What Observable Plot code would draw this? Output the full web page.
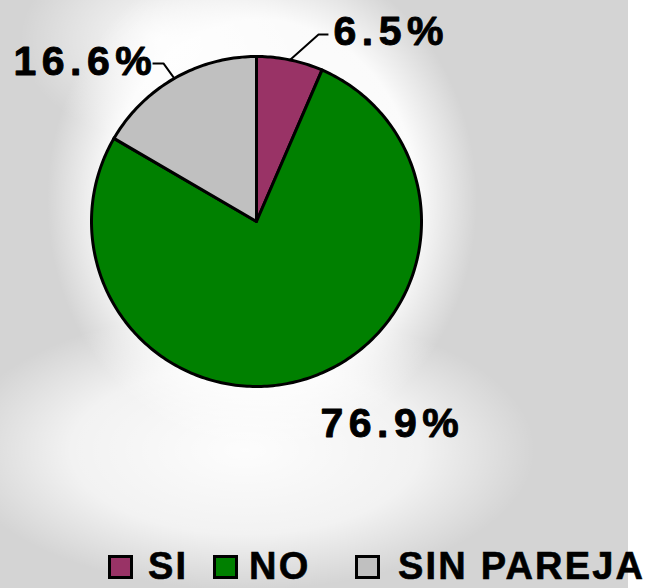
<!DOCTYPE html>
<html>
<head>
<meta charset="utf-8">
<script src="https://cdn.jsdelivr.net/npm/d3@7"></script>
<script src="https://cdn.jsdelivr.net/npm/@observablehq/plot@0.6"></script>
<style>
  html, body { margin: 0; padding: 0; }
  #chart {
    position: relative; width: 658px; height: 588px; overflow: hidden;
    font-family: "Liberation Sans", Arial, sans-serif;
    background:
      linear-gradient(to right, rgba(255,255,255,0) 628px, #ffffff 628px),
      radial-gradient(ellipse 215px 250px at 262px 200px, rgba(255,255,255,0.97) 0%, rgba(255,255,255,0.9) 72%, rgba(255,255,255,0) 100%),
      radial-gradient(ellipse 290px 140px at 245px 450px, rgba(255,255,255,0.95) 0%, rgba(255,255,255,0.7) 60%, rgba(255,255,255,0) 100%),
      radial-gradient(ellipse 140px 100px at 160px 40px, rgba(255,255,255,0.9) 0%, rgba(255,255,255,0) 100%),
      #d4d4d4;
  }
  #chart svg g[aria-label="text"] text { letter-spacing: 5.5px; }
  #legend { position: relative; width: 658px; height: 43px; }
  #legend .sw { position: absolute; top: 10px; width: 19px; height: 18px; border: 3px solid #000; }
  #legend .lb { position: absolute; top: 6px; font-size: 38px; line-height: 30px; font-weight: bold; letter-spacing: 2.2px; color: #000; white-space: nowrap; -webkit-text-stroke: 0.6px #000; }
</style>
</head>
<body>
<div id="chart"></div>
<script>
// ---- data ----
const categories = ["SI", "NO", "SIN PAREJA"];
const values = [6.5, 76.9, 16.6];
const labels = ["6.5%", "76.9%", "16.6%"];
const colors = ["#993366", "#008000", "#C0C0C0"];

// ---- layout (pie radius = 1 unit, y pointing down) ----
const labelLayout = {
  "SI":         {text: [0.467, -1.067], elbow: [0.376, -1.133], end: [0.436, -1.133]},
  "NO":         {text: [0.388, 1.309]},
  "SIN PAREJA": {text: [-1.473, -0.885], elbow: [-0.564, -0.958], end: [-0.630, -0.958]}
};
const legendLayout = [
  {sw: 108, lb: 148},
  {sw: 213, lb: 249},
  {sw: 355, lb: 398}
];

// ---- derived geometry from values ----
const total = d3.sum(values);
const wedges = [];
const leaders = [];
const texts = [];
let acc = 0;
categories.forEach((cat, i) => {
  const a0 = acc / total * 2 * Math.PI;
  acc += values[i];
  const a1 = acc / total * 2 * Math.PI;
  const n = Math.max(8, Math.ceil((a1 - a0) / (2 * Math.PI) * 360));
  wedges.push({cat, x: 0, y: 0});
  for (let k = 0; k <= n; ++k) {
    const a = a0 + (a1 - a0) * k / n;
    wedges.push({cat, x: Math.sin(a), y: -Math.cos(a)});
  }
  wedges.push({cat, x: 0, y: 0});
  const mid = (a0 + a1) / 2;
  const L = labelLayout[cat];
  if (L.elbow) {
    leaders.push({cat, x: Math.sin(mid), y: -Math.cos(mid)});
    leaders.push({cat, x: L.elbow[0], y: L.elbow[1]});
    leaders.push({cat, x: L.end[0], y: L.end[1]});
  }
  texts.push({cat, label: labels[i], x: L.text[0], y: L.text[1]});
});

const cx = 256, cy = 221, r = 165;
const plot = Plot.plot({
  width: 658,
  height: 545,
  margin: 0,
  style: {background: "transparent", overflow: "visible"},
  x: {domain: [-1, 1], range: [cx - r, cx + r], axis: null},
  y: {domain: [-1, 1], range: [cy - r, cy + r], axis: null},
  color: {type: "ordinal", domain: categories, range: colors},
  marks: [
    Plot.line(wedges, {x: "x", y: "y", z: "cat", fill: "cat", stroke: "#000", strokeWidth: 3,
      strokeLinejoin: "miter", strokeMiterlimit: 4, curve: "linear"}),
    Plot.line(leaders, {x: "x", y: "y", z: "cat", stroke: "#000", strokeWidth: 2,
      strokeLinejoin: "miter", strokeLinecap: "butt", curve: "linear"}),
    Plot.text(texts, {x: "x", y: "y", text: "label", textAnchor: "start", lineAnchor: "bottom",
      fontSize: 41, fontWeight: "bold", fontFamily: "Liberation Sans, Arial, sans-serif",
      fill: "#000", stroke: "#000", strokeWidth: 0.9})
  ]
});
const chart = document.getElementById("chart");
chart.appendChild(plot);

const legend = document.createElement("div");
legend.id = "legend";
categories.forEach((cat, i) => {
  const sw = document.createElement("div");
  sw.className = "sw";
  sw.style.left = legendLayout[i].sw + "px";
  sw.style.background = colors[i];
  legend.appendChild(sw);
  const lb = document.createElement("div");
  lb.className = "lb";
  lb.style.left = legendLayout[i].lb + "px";
  lb.textContent = cat;
  legend.appendChild(lb);
});
chart.appendChild(legend);
</script>
</body>
</html>
